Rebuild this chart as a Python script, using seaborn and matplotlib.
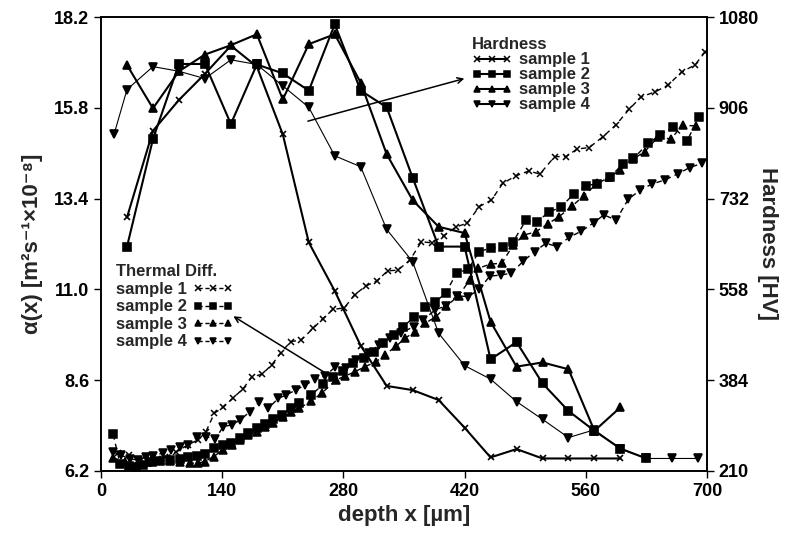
import matplotlib
matplotlib.use('Agg')
import matplotlib.pyplot as plt
from matplotlib.lines import Line2D
import seaborn as sns
import pandas as pd

# hardness profiles (right axis, HV)
hard_x_1 = [30, 60, 90, 120, 150, 180, 210, 240, 270, 300, 330, 360, 390, 420, 450, 480, 510, 540, 570, 600]
hard_y_1 = [696, 862, 921, 971, 1025, 985, 855, 648, 555, 450, 373, 365, 346, 293, 236, 252, 234, 234, 234, 234]
hard_x_2 = [30, 60, 90, 120, 150, 180, 210, 240, 270, 300, 330, 360, 390, 420, 450, 480, 510, 540, 570, 600, 630]
hard_y_2 = [640, 846, 990, 990, 875, 989, 972, 939, 1066, 939, 907, 772, 640, 640, 424, 457, 378, 325, 287, 253, 234]
hard_x_3 = [30, 60, 90, 120, 150, 180, 210, 240, 270, 300, 330, 360, 390, 420, 450, 480, 510, 540, 570, 600]
hard_y_3 = [988, 905, 976, 1008, 1026, 1047, 922, 1028, 1047, 954, 817, 729, 678, 666, 496, 410, 418, 405, 287, 332]
hard_x_4 = [15, 30, 60, 90, 120, 150, 180, 210, 240, 270, 300, 330, 360, 390, 420, 450, 480, 510, 540, 570, 600, 630, 660, 690]
hard_y_4 = [855, 941, 985, 976, 962, 998, 989, 948, 907, 814, 793, 673, 611, 474, 412, 386, 343, 309, 274, 289, 252, 234, 234, 234]

# thermal diffusivity profiles (left axis, 1e-8 m^2/s)
td_x_1 = [20, 32, 46, 60, 74, 87, 100, 112, 121, 131, 141, 152, 164, 174, 186, 197, 208, 219, 231, 245,
          256, 268, 281, 293, 306, 319, 331, 343, 357, 370, 382, 396, 410, 423, 437, 451, 464, 479, 494, 507,
          524, 537, 550, 564, 580, 595, 610, 624, 640, 655, 671, 686, 698]
td_y_1 = [6.68, 6.62, 6.49, 6.49, 6.57, 6.70, 6.89, 7.02, 7.23, 7.73, 7.88, 8.12, 8.37, 8.68, 8.76, 9.00, 9.33, 9.62, 9.66, 9.97,
          10.22, 10.47, 10.51, 10.86, 11.09, 11.23, 11.49, 11.51, 11.78, 12.26, 12.23, 12.42, 12.65, 12.75, 13.19, 13.36, 13.80, 14.00, 14.13, 14.05,
          14.51, 14.51, 14.71, 14.75, 15.04, 15.35, 15.76, 16.09, 16.22, 16.40, 16.75, 16.93, 17.28]
td_x_2 = [14, 22, 32, 40, 49, 59, 68, 80, 91, 101, 111, 120, 130, 141, 150, 161, 170, 180, 189, 199,
          209, 220, 229, 243, 257, 268, 280, 291, 304, 315, 326, 338, 349, 362, 374, 386, 398, 411, 424, 437,
          450, 464, 476, 491, 504, 517, 531, 546, 560, 573, 588, 603, 615, 632, 646, 661, 677, 691]
td_y_2 = [7.17, 6.39, 6.33, 6.31, 6.36, 6.44, 6.46, 6.49, 6.52, 6.56, 6.60, 6.65, 6.80, 6.89, 6.93, 7.06, 7.20, 7.33, 7.43, 7.57,
          7.68, 7.87, 8.01, 8.21, 8.50, 8.69, 8.85, 9.06, 9.18, 9.35, 9.59, 9.79, 10.01, 10.28, 10.53, 10.66, 10.90, 11.44, 11.53, 12.00,
          12.09, 12.11, 12.26, 12.83, 12.79, 13.04, 13.17, 13.52, 13.74, 13.79, 13.98, 14.31, 14.46, 14.86, 15.08, 15.30, 14.93, 15.56]
td_x_3 = [14, 28, 40, 54, 68, 80, 91, 103, 112, 120, 130, 141, 151, 161, 170, 180, 189, 199, 210, 220,
          229, 243, 255, 272, 282, 293, 305, 318, 328, 341, 351, 363, 374, 387, 399, 413, 426, 436, 450, 463,
          476, 489, 502, 516, 529, 544, 558, 573, 587, 600, 615, 628, 644, 658, 672, 687]
td_y_3 = [6.55, 6.44, 6.33, 6.44, 6.49, 6.46, 6.44, 6.41, 6.41, 6.45, 6.58, 6.76, 6.89, 7.02, 7.15, 7.24, 7.37, 7.48, 7.62, 7.77,
          7.86, 8.05, 8.26, 8.61, 8.71, 8.82, 8.96, 9.09, 9.27, 9.50, 9.71, 9.88, 10.10, 10.28, 10.56, 10.83, 11.25, 11.56, 11.67, 11.69,
          12.17, 12.44, 12.52, 12.73, 12.92, 13.20, 13.48, 13.80, 13.96, 14.16, 14.45, 14.64, 15.04, 14.97, 15.34, 15.32]
td_x_4 = [14, 23, 33, 43, 52, 60, 72, 81, 91, 100, 111, 121, 132, 141, 151, 161, 172, 183, 193, 205,
          214, 225, 236, 247, 259, 270, 283, 295, 309, 321, 334, 347, 361, 372, 386, 398, 411, 424, 437, 449,
          462, 474, 488, 501, 514, 527, 541, 555, 569, 581, 595, 609, 623, 637, 651, 666, 680, 694]
td_y_4 = [6.70, 6.62, 6.52, 6.49, 6.57, 6.60, 6.68, 6.75, 6.84, 6.89, 7.09, 7.11, 7.04, 7.37, 7.42, 7.55, 7.77, 8.03, 7.86, 8.12,
          8.21, 8.34, 8.47, 8.62, 8.71, 8.94, 8.92, 9.13, 9.31, 9.53, 9.71, 9.86, 10.01, 10.19, 10.46, 10.56, 10.83, 10.81, 11.00, 11.35,
          11.38, 11.43, 11.75, 12.00, 12.22, 12.13, 12.38, 12.54, 12.76, 12.97, 12.83, 13.38, 13.63, 13.79, 13.89, 14.05, 14.22, 14.33]

sample_labels = ['sample 1', 'sample 2', 'sample 3', 'sample 4']
markers = ['x', 's', '^', 'v']
x_ticks = [0, 140, 280, 420, 560, 700]
left_ticks = [6.2, 8.6, 11.0, 13.4, 15.8, 18.2]
right_ticks = [210, 384, 558, 732, 906, 1080]

sns.set_style('ticks')
plt.rcParams['font.family'] = ['Liberation Sans', 'DejaVu Sans']
plt.rcParams['font.weight'] = 'bold'

fig = plt.figure(figsize=(7.85, 5.4), dpi=100)
ax = fig.add_axes([0.1287, 0.1278, 0.7719, 0.8407])
ax2 = ax.twinx()

hard = [(hard_x_1, hard_y_1), (hard_x_2, hard_y_2), (hard_x_3, hard_y_3), (hard_x_4, hard_y_4)]
therm = [(td_x_1, td_y_1), (td_x_2, td_y_2), (td_x_3, td_y_3), (td_x_4, td_y_4)]
hard_lw = [1.5, 1.5, 1.5, 0.8]

for (hx, hy), mk, lw in zip(hard, markers, hard_lw):
    df = pd.DataFrame({'depth': hx, 'hv': hy})
    sns.lineplot(data=df, x='depth', y='hv', ax=ax2, color='black', linewidth=lw,
                 marker=mk, markersize=5.5 if mk != 'x' else 5, markeredgewidth=1.2,
                 markeredgecolor='black', estimator=None, sort=False, legend=False)

for (tx, ty), mk in zip(therm, markers):
    df = pd.DataFrame({'depth': tx, 'alpha': ty})
    sns.lineplot(data=df, x='depth', y='alpha', ax=ax, color='black', linewidth=1.0,
                 linestyle=(0, (4, 3)), marker=mk, markersize=5.5 if mk != 'x' else 5,
                 markeredgewidth=1.1, markeredgecolor='black', estimator=None, sort=False, legend=False)

ax.set_xlim(0, 700)
ax.set_ylim(6.2, 18.2)
ax2.set_ylim(210, 1080)
ax.set_xticks(x_ticks)
ax.set_yticks(left_ticks)
ax.set_yticklabels([f'{v:.1f}' for v in left_ticks])
ax2.set_yticks(right_ticks)
for a in (ax, ax2):
    a.tick_params(direction='out', length=5, width=1, labelsize=13, colors='black')
    for sp in a.spines.values():
        sp.set_visible(True)
        sp.set_linewidth(1.2)
        sp.set_color('black')

ax.set_xlabel('depth x [µm]', fontsize=16, fontweight='bold', labelpad=4)
ax.set_ylabel('α(x) [m²s⁻¹×10⁻⁸]', fontsize=16, fontweight='bold', labelpad=8)
ax2.set_ylabel('Hardness [HV]', fontsize=16, fontweight='bold', rotation=270, labelpad=14)

# legends
h_handles = [Line2D([0], [0], color='black', lw=1.5, marker=m, markersize=4.5, markeredgewidth=1.1)
             for m in markers]
t_handles = [Line2D([0], [0], color='black', lw=1.0, linestyle=(0, (3, 2)), marker=m, markersize=4.5,
                    markeredgewidth=1.1) for m in markers]
leg_h = ax2.legend(h_handles, sample_labels, title='Hardness', loc='upper left',
                   bbox_to_anchor=(0.612, 0.955), frameon=False, numpoints=3, fontsize=12,
                   title_fontsize=12, alignment='left', labelspacing=0.0, handlelength=2.4,
                   handletextpad=0.4, borderpad=0, borderaxespad=0)
ax2.add_artist(leg_h)
ax2.legend(t_handles, sample_labels, title='Thermal Diff.', loc='upper left',
           bbox_to_anchor=(0.024, 0.455), frameon=False, numpoints=3, fontsize=12,
           title_fontsize=12, alignment='left', labelspacing=0.15, handlelength=2.4,
           handletextpad=0.4, borderpad=0, borderaxespad=0, markerfirst=False)

ax2.annotate('', xy=(0.604, 0.866), xycoords='axes fraction', xytext=(0.337, 0.769),
             arrowprops=dict(arrowstyle='->', color='black', lw=1.1))
ax2.annotate('', xy=(0.2145, 0.344), xycoords='axes fraction', xytext=(0.386, 0.203),
             arrowprops=dict(arrowstyle='->', color='black', lw=1.1))

fig.savefig('out.png', dpi=100)
